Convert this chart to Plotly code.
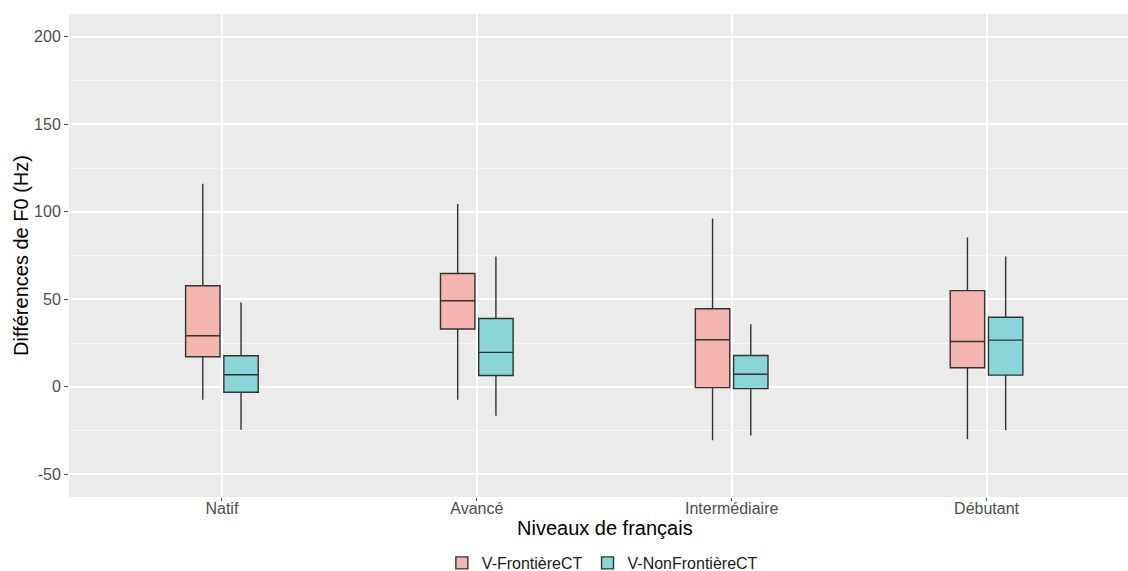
import plotly.graph_objects as go

categories = ["Natif", "Avancé", "Intermédiaire", "Débutant"]

# V-FrontièreCT
front_low = [-7.3, -7.3, -30.5, -29.9]
front_q1 = [17.2, 33.1, -0.4, 10.9]
front_med = [29.2, 49.2, 26.9, 25.9]
front_q3 = [57.8, 64.8, 44.6, 55.0]
front_high = [116.0, 104.4, 96.2, 85.3]

# V-NonFrontièreCT
nonfront_low = [-24.5, -16.5, -27.8, -24.8]
nonfront_q1 = [-3.1, 6.5, -1.0, 6.7]
nonfront_med = [6.9, 19.7, 7.2, 26.7]
nonfront_q3 = [17.8, 39.1, 17.9, 39.8]
nonfront_high = [48.2, 74.5, 35.8, 74.5]

y_ticks = [-50, 0, 50, 100, 150, 200]

fig = go.Figure()
fig.add_trace(go.Box(
    name="V-FrontièreCT", x=categories,
    lowerfence=front_low, q1=front_q1, median=front_med, q3=front_q3, upperfence=front_high,
    fillcolor="#F4B4AF", line=dict(color="#333333", width=1.4),
    whiskerwidth=0, boxpoints=False,
))
fig.add_trace(go.Box(
    name="V-NonFrontièreCT", x=categories,
    lowerfence=nonfront_low, q1=nonfront_q1, median=nonfront_med, q3=nonfront_q3, upperfence=nonfront_high,
    fillcolor="#8AD5D8", line=dict(color="#333333", width=1.4),
    whiskerwidth=0, boxpoints=False,
))

font_family = "Liberation Sans, Arial, sans-serif"

fig.update_layout(
    width=1128, height=571,
    margin=dict(l=69, r=0, t=14, b=74),
    paper_bgcolor="white", plot_bgcolor="#EBEBEB",
    boxmode="group", boxgap=0.7, boxgroupgap=0.1,
    font=dict(family=font_family, size=16, color="#4D4D4D"),
    showlegend=True,
    legend=dict(orientation="h", xref="container", yref="container",
                x=0.534, xanchor="center", y=0.014, yanchor="middle",
                font=dict(size=16, color="#1a1a1a"), bgcolor="rgba(0,0,0,0)",
                itemwidth=30, tracegroupgap=0),
    annotations=[dict(text="Niveaux de français", xref="paper", yref="paper",
                      x=0.5057, y=-0.065, xanchor="center", yanchor="middle",
                      showarrow=False, font=dict(size=20, color="black", family=font_family))],
)
fig.update_xaxes(
    type="category", categoryorder="array", categoryarray=categories,
    range=[-0.6, 3.555], showgrid=True, gridcolor="white", gridwidth=1.6,
    ticks="outside", ticklen=3, tickcolor="#4D4D4D", tickwidth=1,
    ticklabelstandoff=-6,
    tickfont=dict(size=16, color="#4D4D4D"), zeroline=False, showline=False,
    automargin=False,
)
fig.update_yaxes(
    range=[-62.9, 213.0], tickvals=y_ticks, ticktext=[str(v) for v in y_ticks],
    showgrid=True, gridcolor="white", gridwidth=1.6,
    minor=dict(dtick=25, tick0=-75, showgrid=True, gridcolor="#F7F7F7", gridwidth=0.8, ticks=""),
    ticks="outside", ticklen=4, tickcolor="#4D4D4D", tickwidth=1,
    tickfont=dict(size=16, color="#4D4D4D"), zeroline=False, showline=False,
    title=dict(text="Différences de F0 (Hz)", font=dict(size=20, color="black", family=font_family), standoff=0),
    automargin=False,
)

fig.write_html("out.html", config={"displayModeBar": False},
               post_script="document.body.style.margin='0px';")
